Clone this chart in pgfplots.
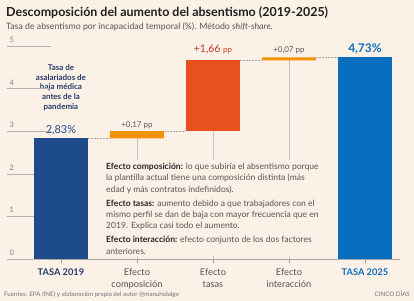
\documentclass[border=0pt]{standalone}
\usepackage{pgfplots}
\pgfplotsset{compat=1.18}
\usepackage{fontspec}
\setmainfont{Lato}

\definecolor{bg}{HTML}{FCF1E7}
\definecolor{navy}{HTML}{1E4C8A}
\definecolor{navytxt}{HTML}{243B6B}
\definecolor{amber}{HTML}{F29400}
\definecolor{flame}{HTML}{E8501E}
\definecolor{flametxt}{HTML}{C8382A}
\definecolor{azure}{HTML}{0A6EBE}
\definecolor{txtgray}{HTML}{555555}

% waterfall: invisible base + visible step per category
\pgfplotstableread{
x base navy amber flame azure
0 0    2.83 0    0    0
1 2.83 0    0.17 0    0
2 3.00 0    0    1.66 0
3 4.66 0    0.07 0    0
4 0    0    0    0    4.73
}\waterfall

\begin{document}
\begin{tikzpicture}
\fill[bg] (0,0) rectangle (414bp,301bp);
\useasboundingbox (0,0) rectangle (414bp,301bp);

% title block
\node[anchor=base west, inner sep=0, text=black!88, font=\fontsize{12.5}{14}\selectfont\bfseries]
  at (6bp,284.5bp) {Descomposición del aumento del absentismo (2019-2025)};
\node[anchor=base west, inner sep=0, text=txtgray, font=\fontsize{8.8}{10}\selectfont]
  at (6bp,271.5bp) {Tasa de absentismo por incapacidad temporal (\%). Método \textit{shift-share}.};

\begin{axis}[
  at={(29.8bp,42bp)}, anchor=south west,
  scale only axis, width=370.1bp, height=213bp,
  xmin=-0.41, xmax=4.46, ymin=0, ymax=5,
  clip=false,
  axis x line*=bottom, axis y line*=left,
  y axis line style={draw=none},
  x axis line style={draw=black!35, line width=0.5pt, -},
  xtick={0,...,4},
  xticklabels={
    {\textcolor{navytxt}{\bfseries TASA 2019}},
    {Efecto\\composición},
    {Efecto\\tasas},
    {Efecto\\interacción},
    {\textcolor{azure}{\bfseries TASA 2025}}},
  xticklabel style={align=center, text=txtgray, yshift=-2bp,
    font=\fontsize{9.3}{12}\selectfont},
  xtick style={draw=black!40, line width=0.5pt},
  tick align=outside, major tick length=4bp,
  ytick={0,...,5}, ytick style={draw=none},
  yticklabel style={anchor=south, xshift=-14bp, text=black!50,
    font=\fontsize{7.5}{8}\selectfont},
  /pgf/number format/assume math mode=true,
  ybar stacked, bar width=54bp,
]
\addplot[draw=none, fill=none] table[x=x, y=base] {\waterfall};
\addplot[draw=none, fill=navy] table[x=x, y=navy] {\waterfall};
\addplot[draw=none, fill=amber] table[x=x, y=amber] {\waterfall};
\addplot[draw=none, fill=flame] table[x=x, y=flame] {\waterfall};
\addplot[draw=none, fill=azure] table[x=x, y=azure] {\waterfall};

% short rules under the y tick labels
\pgfplotsinvokeforeach{0,...,5}{
  \draw[black!30, line width=0.5pt] ([xshift=-23bp]axis cs:-0.41,#1) -- ++(13bp,0);
}

% leader lines under the effect bars
\draw[black!22, line width=0.6pt] (axis cs:1,2.83) -- (axis cs:1,0);
\draw[black!22, line width=0.6pt] (axis cs:2,3.00) -- (axis cs:2,0);
\draw[black!22, line width=0.6pt] (axis cs:3,4.66) -- (axis cs:3,0);

% dotted connectors between consecutive steps
\draw[black!35, densely dotted, line width=0.5pt] (axis cs:0.355,2.83) -- (axis cs:0.645,2.83);
\draw[black!35, densely dotted, line width=0.5pt] (axis cs:1.355,3.00) -- (axis cs:1.645,3.00);
\draw[black!35, densely dotted, line width=0.5pt] (axis cs:2.355,4.66) -- (axis cs:2.645,4.66);
\draw[black!35, densely dotted, line width=0.5pt] (axis cs:3.355,4.73) -- (axis cs:3.645,4.73);

% value labels
\node[anchor=base, yshift=5bp, text=navy, font=\fontsize{11}{12}\selectfont]
  at (axis cs:0,2.83) {2,83\%};
\node[anchor=base, yshift=4bp, text=txtgray, font=\fontsize{8}{9}\selectfont]
  at (axis cs:1,3.00) {+0,17 pp};
\node[anchor=base, yshift=8bp, text=flametxt]
  at (axis cs:2,4.66) {{\fontsize{10.5}{11}\selectfont +1,66} {\fontsize{8}{9}\selectfont pp}};
\node[anchor=base, yshift=5bp, text=txtgray, font=\fontsize{8}{9}\selectfont]
  at (axis cs:3,4.73) {+0,07 pp};
\node[anchor=base, yshift=5.5bp, text=azure, font=\fontsize{12}{13}\selectfont\bfseries]
  at (axis cs:4,4.73) {4,73\%};

% bar notes (anchored on the baseline of their last line)
\node[anchor=base, align=center, text=navytxt, inner sep=0,
  font=\fontsize{8}{10}\selectfont\bfseries]
  at (axis cs:0,3.50) {Tasa de\\asalariados de\\baja médica\\antes de la\\pandemia};
\node[anchor=base, align=center, text=white, inner sep=0,
  font=\fontsize{8}{10}\selectfont\bfseries]
  at (axis cs:4,3.00) {Récord\\actual de\\bajas\\médicas.\\Nivel más\\alto de\\la serie};
\end{axis}

% explanatory box over the leader lines
\fill[bg] (104bp,45bp) rectangle (336bp,141bp);
\node[anchor=north west, inner sep=0, align=left, text=txtgray,
  font=\fontsize{8.6}{11.4}\selectfont] at (106bp,138bp) {%
  \textcolor{black!85}{\bfseries Efecto composición:} lo que subiría el absentismo porque\\
  la plantilla actual tiene una composición distinta (más\\
  edad y más contratos indefinidos).\\[2.6bp]
  \textcolor{black!85}{\bfseries Efecto tasas:} aumento debido a que trabajadores con el\\
  mismo perfil se dan de baja con mayor frecuencia que en\\
  2019. Explica casi todo el aumento.\\[2.6bp]
  \textcolor{black!85}{\bfseries Efecto interacción:} efecto conjunto de los dos factores\\
  anteriores.};

% footer
\node[anchor=base west, inner sep=0, text=black!55, font=\fontsize{6.2}{7}\selectfont]
  at (4bp,4.5bp) {Fuentes: EPA (INE) y elaboración propia del autor @manuhidalgo};
\node[anchor=base east, inner sep=0, text=black!55, font=\fontsize{6.2}{7}\selectfont]
  at (410bp,4.5bp) {CINCO DÍAS};
\end{tikzpicture}
\end{document}
